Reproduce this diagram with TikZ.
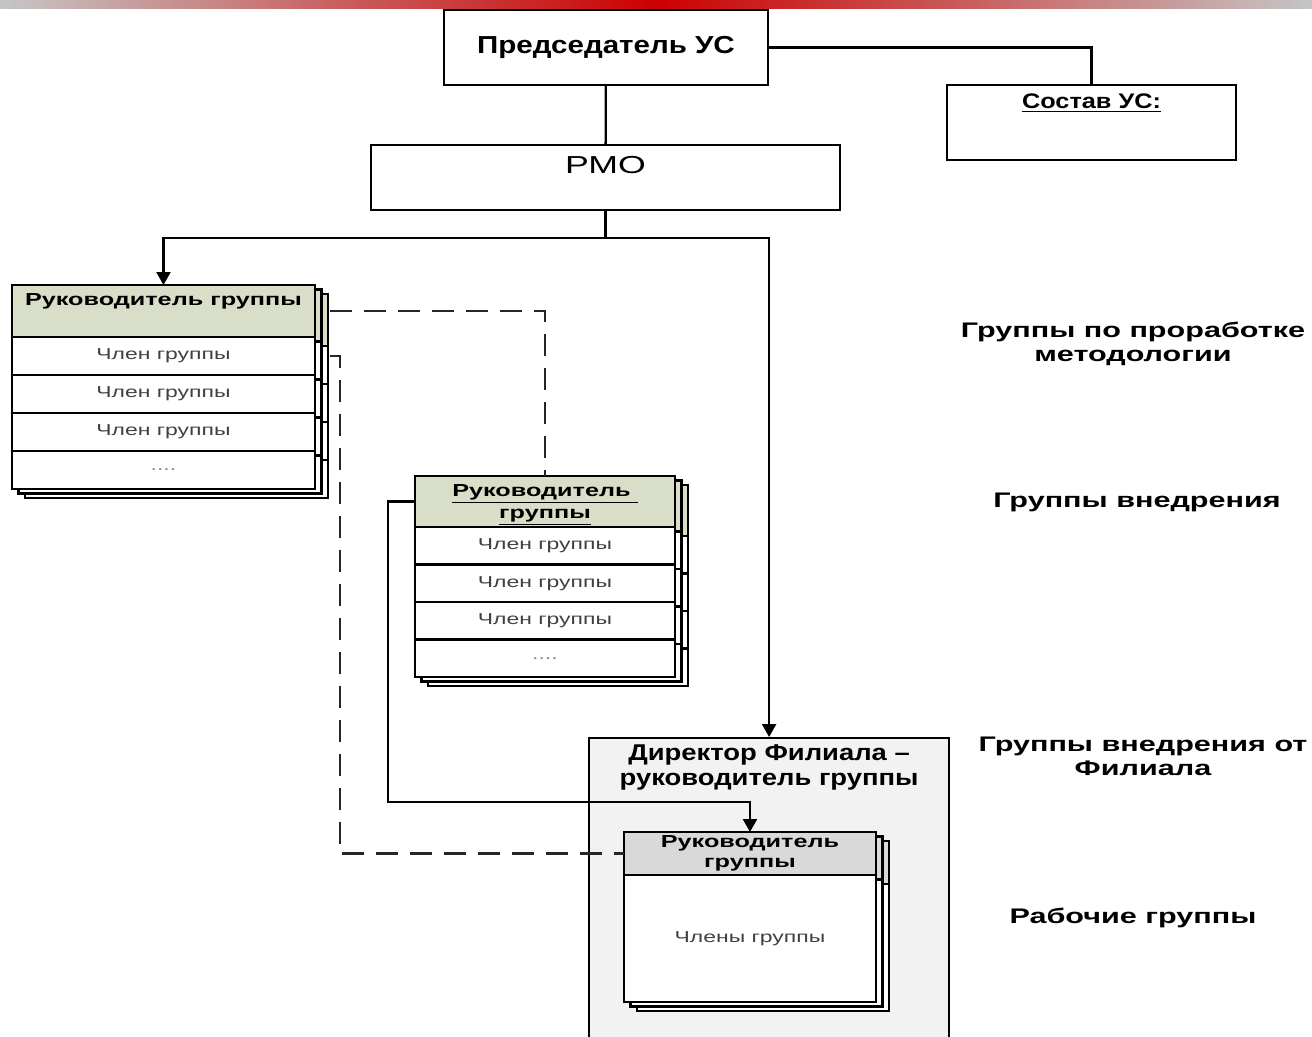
\documentclass[tikz,border=0pt]{standalone}
\usepackage{fontspec}
\setmainfont{Liberation Sans}
\newfontfamily\widefont[FakeStretch=1.45]{Liberation Sans}
\newfontfamily\topfont[FakeStretch=1.2]{Liberation Sans}
\usetikzlibrary{positioning,shadows,arrows.meta}
\definecolor{headgreen}{RGB}{216,222,200}
\definecolor{headgray}{RGB}{217,217,217}
\definecolor{branchgray}{RGB}{242,242,242}

\begin{document}
\begin{tikzpicture}[x=0.02cm, y=-0.02cm, line width=1.3pt,
    box/.style = {draw, fill=white, outer sep=0pt},
    stack/.style = {box, copy shadow={shadow xshift=0.26cm, shadow yshift=-0.18cm},
                         copy shadow={shadow xshift=0.13cm, shadow yshift=-0.09cm}},
    head/.style = {stack, fill=headgreen, align=center,
                   font=\widefont\bfseries\fontsize{9.9}{12.5}\selectfont},
    member/.style = {stack, text=black!75, font=\widefont\fontsize{9}{10}\selectfont},
    side/.style = {align=center, font=\widefont\bfseries\fontsize{12}{13.5}\selectfont},
    arr/.style = {-{Triangle[length=0.26cm, width=0.28cm]}},
    dashline/.style = {dash pattern=on 0.44cm off 0.24cm, black!85}]
    \useasboundingbox (0,0) rectangle (1312,1036);
    \fill[white] (0,0) rectangle (1312,1036);
    \shade[left color=gray!45, right color=gray!45, middle color=red!80!black] (0,0) rectangle (1312,8);
    % Top
    \node[box, minimum width=6.48cm, minimum height=1.5cm,
          font=\topfont\bfseries\fontsize{14}{16}\selectfont] (chair) at (606,47.5) {Председатель УС};
    \node[box, minimum width=5.78cm, minimum height=1.5cm] (sostav) at (1091.5,122.5) {};
    \node[inner sep=0pt, below=0.16cm of sostav.north,
          font=\topfont\bfseries\fontsize{12}{13}\selectfont] (sostavtxt) {\underline{Состав УС:}};
    \node[box, minimum width=9.38cm, minimum height=1.3cm] (rmo) at (605.5,177.5) {};
    \node[inner sep=0pt, below=0.2cm of rmo.north,
          font=\widefont\fontsize{14}{16}\selectfont] (rmotxt) {РМО};
    % Methodology group
    \node[head, minimum width=6.06cm, minimum height=1.04cm, text depth=0.45cm,
          anchor=north west] (lhead) at (12,285) {Руководитель группы};
    \node[member, minimum width=6.06cm, minimum height=0.76cm, below=0pt of lhead] (lrow1) {Член группы};
    \node[member, minimum width=6.06cm, minimum height=0.76cm, below=0pt of lrow1] (lrow2) {Член группы};
    \node[member, minimum width=6.06cm, minimum height=0.76cm, below=0pt of lrow2] (lrow3) {Член группы};
    \node[member, minimum width=6.06cm, minimum height=0.76cm, below=0pt of lrow3, text=black!50] (lrow4) {....};
    % Implementation group
    \node[head, minimum width=5.2cm, minimum height=1.02cm, inner sep=0pt,
          anchor=north west] (mhead) at (415,476) {\rule{0pt}{11pt}\underline{Руководитель\ }\\\underline{группы}};
    \node[member, minimum width=5.2cm, minimum height=0.75cm, below=0pt of mhead] (mrow1) {Член группы};
    \node[member, minimum width=5.2cm, minimum height=0.75cm, below=0pt of mrow1] (mrow2) {Член группы};
    \node[member, minimum width=5.2cm, minimum height=0.75cm, below=0pt of mrow2] (mrow3) {Член группы};
    \node[member, minimum width=5.2cm, minimum height=0.75cm, below=0pt of mrow3, text=black!50] (mrow4) {....};
    % Branch
    \node[draw, fill=branchgray, minimum width=7.2cm, minimum height=6.2cm,
          anchor=north west] (branch) at (588,737) {};
    \node[inner sep=0pt, below=0.14cm of branch.north, align=center,
          font=\topfont\bfseries\fontsize{13}{14}\selectfont] (branchtxt) {Директор Филиала –\\руководитель группы};
    \node[head, fill=headgray, minimum width=5.04cm, minimum height=0.86cm, inner sep=0pt,
          font=\widefont\bfseries\fontsize{9.9}{11.5}\selectfont,
          anchor=north west] (ihead) at (624,832) {Руководитель\\группы};
    \node[member, minimum width=5.04cm, minimum height=2.54cm, below=0pt of ihead] (ibody) {Члены группы};
    % Side labels
    \node[side] (lblmeth) at (1133,344) {Группы по проработке\\методологии};
    \node[side] (lblimpl) at (1137,502) {Группы внедрения};
    \node[side] (lblbranch) at (1143,756) {Группы внедрения от\\Филиала};
    \node[side] (lblwork) at (1133,918) {Рабочие группы};
    % Edges
    \coordinate (split) at (605.5,238);
    \draw (chair) -- (rmo);
    \draw (chair.east) -| (sostav.north);
    \draw (rmo.south) -- (split);
    \draw[arr] (split) -| (lhead.north);
    \draw[arr] (split) -| (branch.north);
    \draw[dashline] ([xshift=0.3cm]lhead.east) -| (mhead.north);
    \draw[dashline] ([xshift=0.3cm]lrow1.east) -- ++(0.2cm,0) |- (ihead.west);
    \draw[arr] (mhead.west) -| (388,802) -| (ihead.north);
\end{tikzpicture}
\end{document}
